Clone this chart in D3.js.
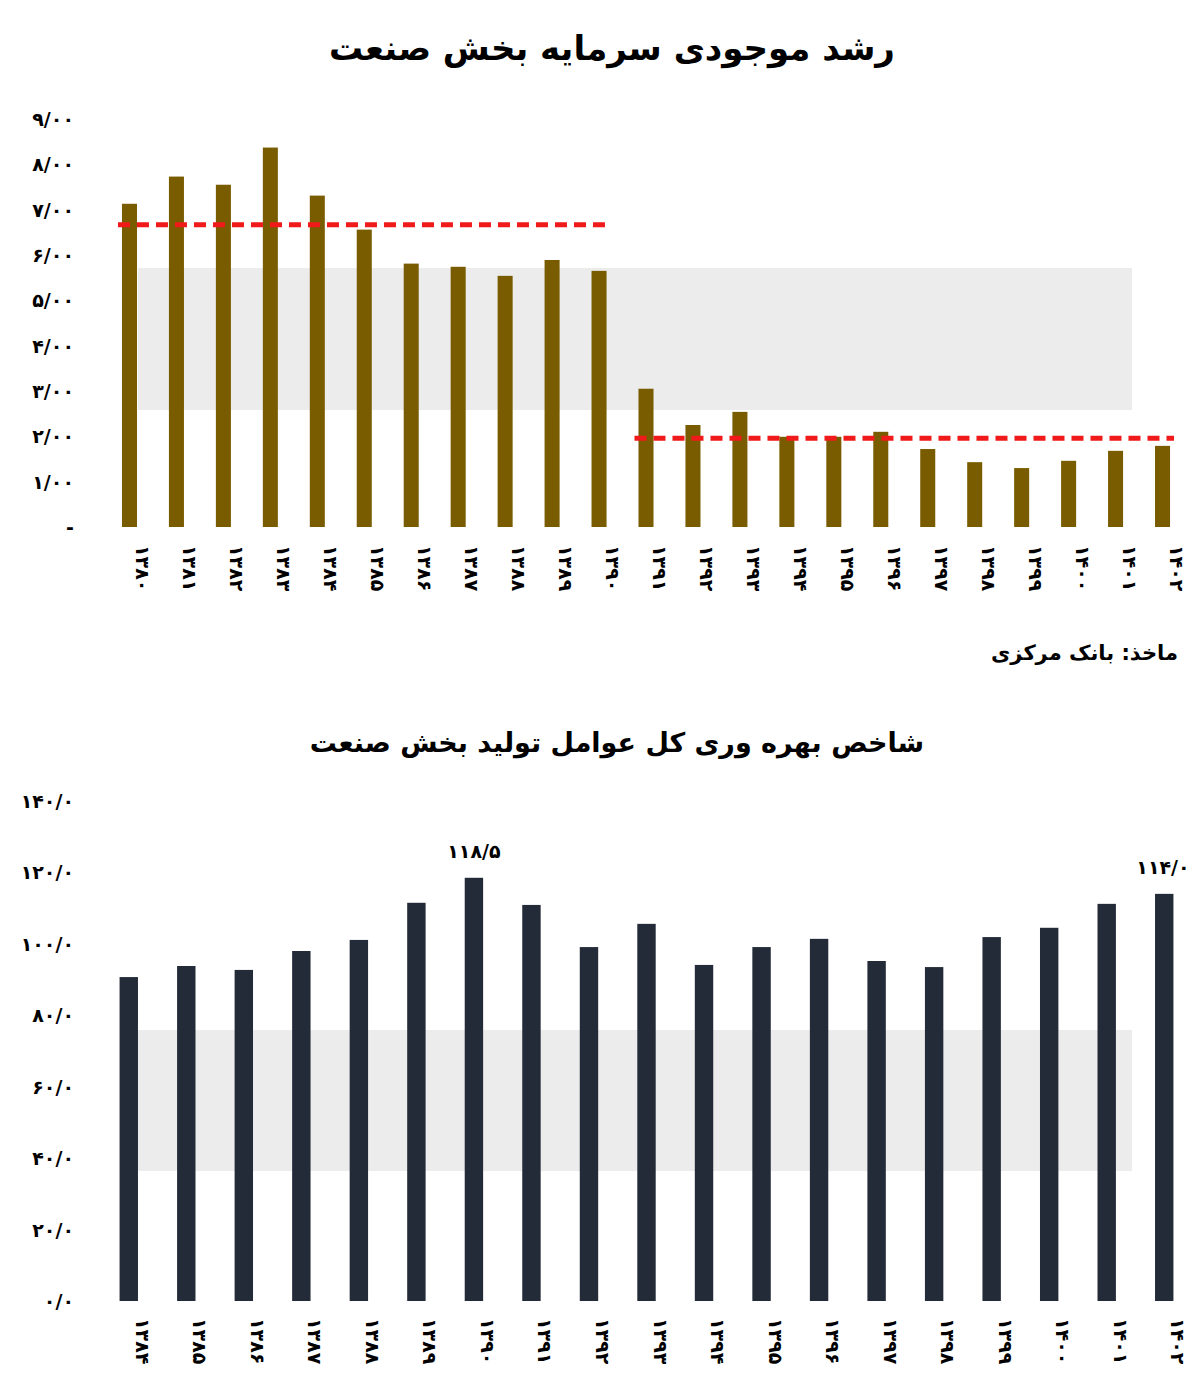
<!DOCTYPE html>
<html><head><meta charset="utf-8">
<script src="https://cdn.jsdelivr.net/npm/d3@7"></script>
<style>body{margin:0;background:#fff}svg{font-family:"DejaVu Sans",sans-serif;font-weight:bold}.num{direction:ltr;unicode-bidi:bidi-override}</style>
</head><body><div id="chart"></div>
<script>
// chart 1: capital stock growth
const years1 = ['1380','1381','1382','1383','1384','1385','1386','1387','1388','1389','1390','1391','1392','1393','1394','1395','1396','1397','1398','1399','1400','1401','1402'];
const growth = [7.13,7.73,7.55,8.37,7.31,6.56,5.81,5.74,5.54,5.89,5.65,3.05,2.25,2.54,1.99,1.99,2.10,1.72,1.43,1.30,1.46,1.68,1.79];
const averages = [{from:'1380',to:'1390',v:6.67},{from:'1391',to:'1402',v:1.96}];
const ticks1 = [0,1,2,3,4,5,6,7,8,9];
// chart 2: TFP index
const years2 = ['1384','1385','1386','1387','1388','1389','1390','1391','1392','1393','1394','1395','1396','1397','1398','1399','1400','1401','1402'];
const tfp = [90.7,93.8,92.7,98.0,101.1,111.5,118.5,110.9,99.1,105.6,94.1,99.1,101.4,95.2,93.5,101.9,104.5,111.2,114.0];
const labelled = ['1390','1402'];
const ticks2 = [0,20,40,60,80,100,120,140];

const fa = s => String(s).replace(/\d/g, d => '۰۱۲۳۴۵۶۷۸۹'[d]).replace('.', '/');

const svg = d3.select('#chart').append('svg').attr('width',1200).attr('height',1381);

// faint watermark bands
svg.append('rect').attr('x',138).attr('y',268).attr('width',994).attr('height',142).attr('fill','#ececec');
svg.append('rect').attr('x',138).attr('y',1030).attr('width',994).attr('height',141).attr('fill','#ececec');

svg.append('text').attr('x',612).attr('y',60).attr('text-anchor','middle').attr('font-size',34).text('رشد موجودی سرمایه بخش صنعت');

// --- top chart
const x1 = d3.scaleBand().domain(years1).range([106,1186]).paddingInner(0.68).paddingOuter(0.34);
const y1 = d3.scaleLinear().domain([0,9]).range([527,119]);

const g1 = svg.append('g');
g1.selectAll('text.yt').data(ticks1).join('text').attr('class','num')
  .attr('x',74).attr('y',d=>y1(d)+7).attr('text-anchor','end').attr('font-size',19)
  .text(d=> d===0 ? '-' : fa(d.toFixed(2)));
g1.selectAll('rect').data(years1).join('rect')
  .attr('x',d=>x1(d)).attr('width',x1.bandwidth())
  .attr('y',(d,i)=>y1(growth[i])).attr('height',(d,i)=>y1(0)-y1(growth[i]))
  .attr('fill','#7a5c00');
g1.selectAll('line.avg').data(averages).join('line')
  .attr('x1',d=>x1(d.from)-4).attr('x2',d=>x1(d.to)+x1.bandwidth()+4)
  .attr('y1',d=>y1(d.v)).attr('y2',d=>y1(d.v))
  .attr('stroke','#f01a1a').attr('stroke-width',5).attr('stroke-dasharray','12,7');
g1.selectAll('text.xt').data(years1).join('text').attr('class','num')
  .attr('transform',d=>`translate(${x1(d)+x1.bandwidth()/2+7},545) rotate(90)`)
  .attr('font-size',19).text(d=>fa(d));

svg.append('text').attr('x',1178).attr('y',660).attr('text-anchor','end').attr('font-size',21).text('ماخذ: بانک مرکزی');

svg.append('text').attr('x',617).attr('y',752).attr('text-anchor','middle').attr('font-size',27).text('شاخص بهره وری کل عوامل تولید بخش صنعت');

// --- bottom chart
const x2 = d3.scaleBand().domain(years2).range([100,1193]).paddingInner(0.68).paddingOuter(0.34);
const y2 = d3.scaleLinear().domain([0,140]).range([1301,801]);
const g2 = svg.append('g');
g2.selectAll('text.yt').data(ticks2).join('text').attr('class','num')
  .attr('x',74).attr('y',d=>y2(d)+7).attr('text-anchor','end').attr('font-size',19)
  .text(d=>fa(d.toFixed(1)));
g2.selectAll('rect').data(years2).join('rect')
  .attr('x',d=>x2(d)).attr('width',x2.bandwidth())
  .attr('y',(d,i)=>y2(tfp[i])).attr('height',(d,i)=>y2(0)-y2(tfp[i]))
  .attr('fill','#242b38');
g2.selectAll('text.vl').data(years2.filter(d=>labelled.includes(d))).join('text').attr('class','num')
  .attr('x',d=>Math.min(x2(d)+x2.bandwidth()/2,1163)).attr('y',d=>y2(tfp[years2.indexOf(d)])-20)
  .attr('text-anchor','middle').attr('font-size',19)
  .text(d=>fa(tfp[years2.indexOf(d)].toFixed(1)));
g2.selectAll('text.xt').data(years2).join('text').attr('class','num')
  .attr('transform',d=>`translate(${x2(d)+x2.bandwidth()/2+7},1318) rotate(90)`)
  .attr('font-size',19).text(d=>fa(d));
</script></body></html>
